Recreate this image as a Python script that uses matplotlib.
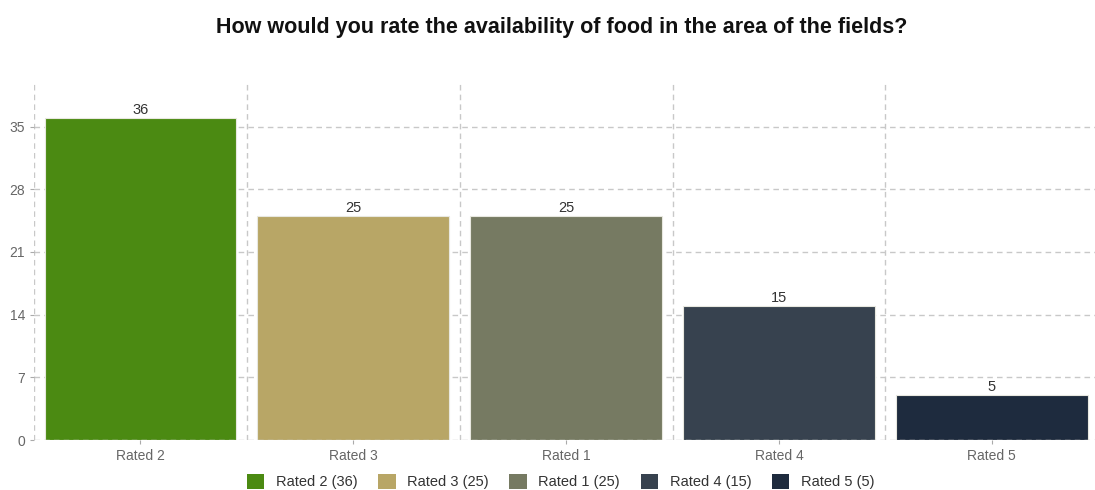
import matplotlib.pyplot as plt
from matplotlib.patches import Patch

categories = ['Rated 2', 'Rated 3', 'Rated 1', 'Rated 4', 'Rated 5']
counts = [36, 25, 25, 15, 5]
colors = ['#4b8a12', '#b8a666', '#767a62', '#37424f', '#1e2b3e']
y_ticks = [0, 7, 14, 21, 28, 35]

plt.rcParams['font.family'] = ['Liberation Sans', 'DejaVu Sans']

fig = plt.figure(figsize=(10.95, 4.9), dpi=100)
ax = fig.add_axes([0.031, 0.102, 0.972, 0.731])

x = range(len(categories))
bars = ax.bar(x, counts, width=0.9, color=colors, edgecolor='#e8e8e0', linewidth=0.8, zorder=3)
for rect, val in zip(bars, counts):
    ax.text(rect.get_x() + rect.get_width() / 2, val + 0.1, str(val),
            ha='center', va='bottom', fontsize=10.5, color='#333333', zorder=4)

ax.set_xlim(-0.5, len(categories) - 0.5)
ax.set_ylim(0, 40)
ax.set_yticks(y_ticks)
ax.set_xticks(list(x))
ax.set_xticklabels(categories)
ax.tick_params(axis='both', colors='#aaaaaa', labelcolor='#666666', labelsize=10, length=3)

# dashed grid: horizontal at y ticks, vertical between categories
for yv in y_ticks[1:]:
    ax.axhline(yv, color='#c8c8c8', linestyle=(0, (4, 3)), linewidth=1, zorder=1)
for xv in [i - 0.5 for i in range(len(categories) + 1)]:
    ax.axvline(xv, color='#c8c8c8', linestyle=(0, (4, 3)), linewidth=1, zorder=1)
ax.axhline(0, color='#c8c8c8', linestyle=(0, (4, 3)), linewidth=1, zorder=5)

for side in ax.spines.values():
    side.set_visible(False)

fig.suptitle('How would you rate the availability of food in the area of the fields?',
             x=0.513, y=0.965, fontsize=15.5, fontweight='bold', color='#111111')

handles = [Patch(facecolor=c, edgecolor='none') for c in colors]
labels = [f'{c} ({v})' for c, v in zip(categories, counts)]
fig.legend(handles, labels, loc='lower center', bbox_to_anchor=(0.512, -0.025), ncol=5,
           frameon=False, fontsize=10.5, handlelength=1.2, handleheight=1.2,
           columnspacing=1.4, handletextpad=0.8, labelcolor='#333333')

fig.savefig('out.png', dpi=100)
